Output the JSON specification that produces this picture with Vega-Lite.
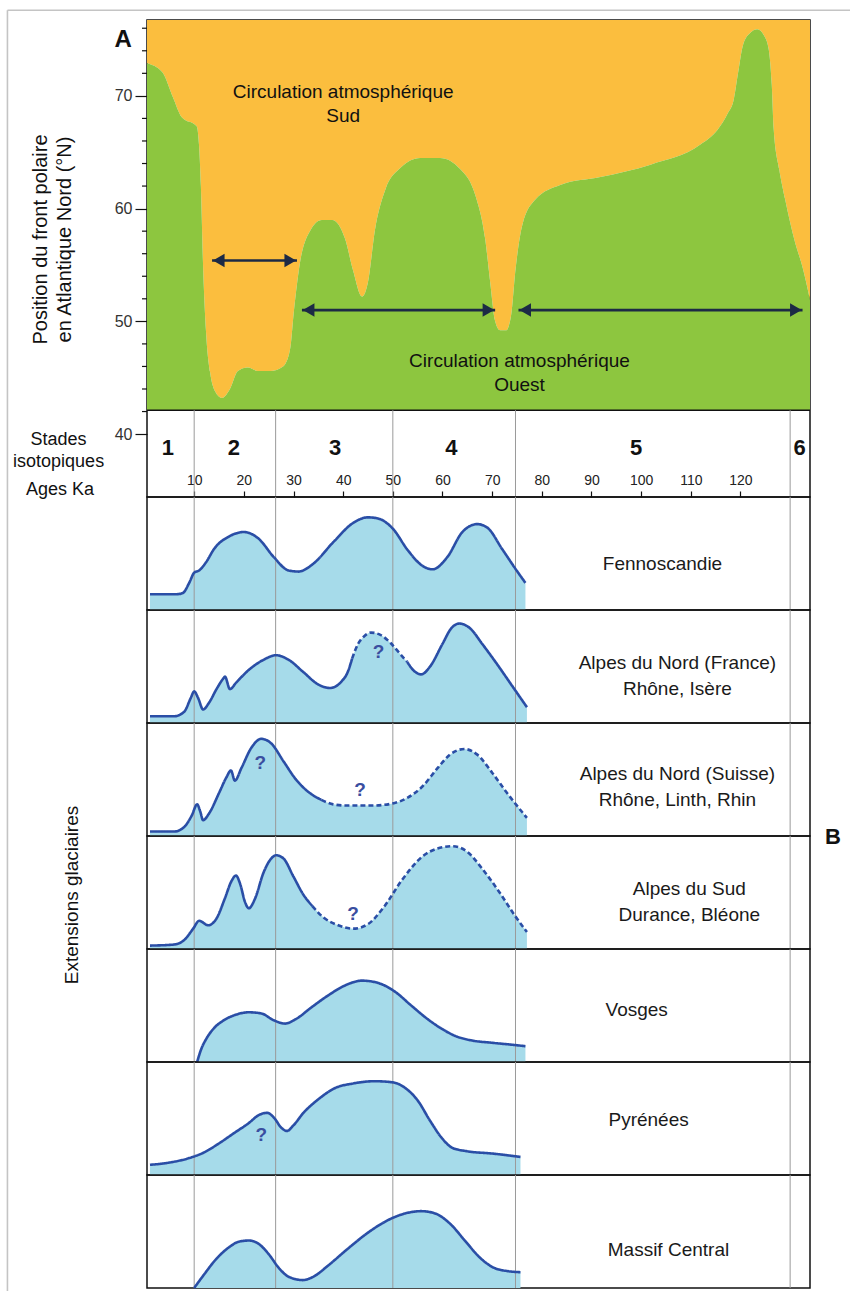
{
"$schema":"https://vega.github.io/schema/vega-lite/v6.json",
"background":"white",
"padding":{"left":5,"top":8,"right":0,"bottom":0},
"spacing":0,
"bounds":"flush",
"config":{"font":"Liberation Sans","view":{"stroke":"#111","strokeWidth":1.5},"axis":{"grid":false},"text":{"font":"Liberation Sans"},"facet":{"spacing":0},"concat":{"spacing":0}},
"datasets":{
"front":[{"ka":0.5,"lat":72.9},{"ka":3.6,"lat":72.1},{"ka":5.7,"lat":69.9},{"ka":7.5,"lat":68.1},{"ka":10.5,"lat":67.3},{"ka":11.0,"lat":65.5},{"ka":11.35,"lat":62},{"ka":11.75,"lat":55.5},{"ka":12.4,"lat":49},{"ka":13.2,"lat":45.5},{"ka":14.2,"lat":43.8},{"ka":15.6,"lat":43.2},{"ka":17.2,"lat":44.0},{"ka":18.8,"lat":45.6},{"ka":20.8,"lat":45.9},{"ka":22.8,"lat":45.6},{"ka":25.3,"lat":45.6},{"ka":27.9,"lat":46.0},{"ka":29.3,"lat":47.5},{"ka":30.1,"lat":51.0},{"ka":31.3,"lat":55.2},{"ka":33.3,"lat":58.0},{"ka":35.7,"lat":59.0},{"ka":37.8,"lat":59.0},{"ka":40.4,"lat":57.3},{"ka":42.0,"lat":54.5},{"ka":43.8,"lat":52.2},{"ka":45.0,"lat":53.5},{"ka":46.4,"lat":58.1},{"ka":48.5,"lat":61.7},{"ka":51.5,"lat":63.6},{"ka":55.5,"lat":64.5},{"ka":59.5,"lat":64.5},{"ka":63.6,"lat":63.5},{"ka":66.6,"lat":61.2},{"ka":68.6,"lat":57.3},{"ka":69.6,"lat":53.5},{"ka":70.6,"lat":50.0},{"ka":71.6,"lat":49.2},{"ka":72.8,"lat":49.2},{"ka":73.8,"lat":50.5},{"ka":74.7,"lat":54.6},{"ka":76.1,"lat":58.6},{"ka":78.7,"lat":60.8},{"ka":83.7,"lat":62.1},{"ka":91.8,"lat":62.8},{"ka":101.9,"lat":63.9},{"ka":112.0,"lat":65.7},{"ka":115.4,"lat":67.0},{"ka":117.5,"lat":68.5},{"ka":118.6,"lat":69.6},{"ka":119.5,"lat":72.0},{"ka":120.5,"lat":74.5},{"ka":122.0,"lat":75.6},{"ka":123.4,"lat":75.9},{"ka":124.8,"lat":75.3},{"ka":125.7,"lat":74.1},{"ka":126.3,"lat":71.0},{"ka":126.7,"lat":67.0},{"ka":127.8,"lat":63.5},{"ka":129.0,"lat":60.8},{"ka":131.0,"lat":57.0},{"ka":132.5,"lat":54.8},{"ka":134.0,"lat":51.9}],
"minor":[{"lat":42},{"lat":44},{"lat":46},{"lat":48},{"lat":52},{"lat":54},{"lat":56},{"lat":58},{"lat":62},{"lat":64},{"lat":66},{"lat":68},{"lat":72},{"lat":74},{"lat":76}],
"frame":[{"ka":-27.6,"ka2":142.2,"lat":77.6,"lat2":-36}],
"arrows":[{"ka":13.6,"ka2":30.7,"lat":55.4},{"ka":31.7,"ka2":70.6,"lat":51.0},{"ka":75.3,"ka2":132.5,"lat":51.0}],
"heads":[{"ka":14.95,"lat":55.4,"dir":"L"},{"ka":29.35,"lat":55.4,"dir":"R"},{"ka":33.05,"lat":51.0,"dir":"L"},{"ka":69.25,"lat":51.0,"dir":"R"},{"ka":76.65,"lat":51.0,"dir":"L"},{"ka":131.15,"lat":51.0,"dir":"R"}],
"circ":[{"ka":40.0,"lat":70.35,"txt":"Circulation atmosphérique\nSud"},{"ka":75.5,"lat":46.46,"txt":"Circulation atmosphérique\nOuest"}],
"stages":[{"ka":4.7,"lat":38.76,"txt":"1"},{"ka":18.0,"lat":38.76,"txt":"2"},{"ka":38.4,"lat":38.76,"txt":"3"},{"ka":61.8,"lat":38.76,"txt":"4"},{"ka":99.0,"lat":38.76,"txt":"5"},{"ka":131.9,"lat":38.76,"txt":"6"}],
"stagelines":[{"ka":10},{"ka":26.4},{"ka":50},{"ka":74.7},{"ka":130}],
"leftlab":[{"ka":-17.3,"lat":39.47,"txt":"Stades\nisotopiques"},{"ka":-17.0,"lat":35.04,"txt":"Ages Ka"}],
"panelA":[{"ka":-4.3,"lat":74.95,"txt":"A"}],
"ext":[
{"r":"F","t":"c","s":"1","d":"s","k":1.1,"v":0.14},{"r":"F","t":"c","s":"1","d":"s","k":6.5,"v":0.14},{"r":"F","t":"c","s":"1","d":"s","k":7.7,"v":0.15},{"r":"F","t":"c","s":"1","d":"s","k":9,"v":0.24},{"r":"F","t":"c","s":"1","d":"s","k":10,"v":0.33},{"r":"F","t":"c","s":"1","d":"s","k":11,"v":0.35},{"r":"F","t":"c","s":"1","d":"s","k":12.5,"v":0.43},{"r":"F","t":"c","s":"1","d":"s","k":14,"v":0.54},{"r":"F","t":"c","s":"1","d":"s","k":17,"v":0.65},{"r":"F","t":"c","s":"1","d":"s","k":20,"v":0.69},{"r":"F","t":"c","s":"1","d":"s","k":23,"v":0.63},{"r":"F","t":"c","s":"1","d":"s","k":26,"v":0.47},{"r":"F","t":"c","s":"1","d":"s","k":29,"v":0.35},{"r":"F","t":"c","s":"1","d":"s","k":31,"v":0.34},{"r":"F","t":"c","s":"1","d":"s","k":34,"v":0.41},{"r":"F","t":"c","s":"1","d":"s","k":38,"v":0.60},{"r":"F","t":"c","s":"1","d":"s","k":42,"v":0.77},{"r":"F","t":"c","s":"1","d":"s","k":45,"v":0.82},{"r":"F","t":"c","s":"1","d":"s","k":47,"v":0.81},{"r":"F","t":"c","s":"1","d":"s","k":50,"v":0.72},{"r":"F","t":"c","s":"1","d":"s","k":53,"v":0.53},{"r":"F","t":"c","s":"1","d":"s","k":56,"v":0.39},{"r":"F","t":"c","s":"1","d":"s","k":58,"v":0.36},{"r":"F","t":"c","s":"1","d":"s","k":61,"v":0.47},{"r":"F","t":"c","s":"1","d":"s","k":64,"v":0.69},{"r":"F","t":"c","s":"1","d":"s","k":67,"v":0.76},{"r":"F","t":"c","s":"1","d":"s","k":69,"v":0.73},{"r":"F","t":"c","s":"1","d":"s","k":72,"v":0.54},{"r":"F","t":"c","s":"1","d":"s","k":75,"v":0.345},{"r":"F","t":"c","s":"1","d":"s","k":76.7,"v":0.24},
{"r":"ANF","t":"c","s":"1","d":"s","k":1.1,"v":0.06},{"r":"ANF","t":"c","s":"1","d":"s","k":6,"v":0.06},{"r":"ANF","t":"c","s":"1","d":"s","k":8,"v":0.10},{"r":"ANF","t":"c","s":"1","d":"s","k":9.3,"v":0.22},{"r":"ANF","t":"c","s":"1","d":"s","k":10,"v":0.28},{"r":"ANF","t":"c","s":"1","d":"s","k":10.8,"v":0.22},{"r":"ANF","t":"c","s":"1","d":"s","k":11.8,"v":0.12},{"r":"ANF","t":"c","s":"1","d":"s","k":13,"v":0.18},{"r":"ANF","t":"c","s":"1","d":"s","k":14.5,"v":0.30},{"r":"ANF","t":"c","s":"1","d":"s","k":15.8,"v":0.39},{"r":"ANF","t":"c","s":"1","d":"s","k":16.2,"v":0.41},{"r":"ANF","t":"c","s":"1","d":"s","k":17.2,"v":0.30},{"r":"ANF","t":"c","s":"1","d":"s","k":18.5,"v":0.36},{"r":"ANF","t":"c","s":"1","d":"s","k":21,"v":0.47},{"r":"ANF","t":"c","s":"1","d":"s","k":24,"v":0.56},{"r":"ANF","t":"c","s":"1","d":"s","k":26.5,"v":0.60},{"r":"ANF","t":"c","s":"1","d":"s","k":29,"v":0.56},{"r":"ANF","t":"c","s":"1","d":"s","k":32,"v":0.45},{"r":"ANF","t":"c","s":"1","d":"s","k":35,"v":0.34},{"r":"ANF","t":"c","s":"1","d":"s","k":37.4,"v":0.31},{"r":"ANF","t":"c","s":"1","d":"s","k":39.5,"v":0.36},{"r":"ANF","t":"c","s":"1","d":"s","k":41,"v":0.46},{"r":"ANF","t":"c","s":"1","d":"s","k":41.8,"v":0.57},
{"r":"ANF","t":"c","s":"2","d":"d","a":0,"k":41.8,"v":0.57},{"r":"ANF","t":"c","s":"2","d":"d","k":43,"v":0.70},{"r":"ANF","t":"c","s":"2","d":"d","k":44.3,"v":0.77},{"r":"ANF","t":"c","s":"2","d":"d","k":45.6,"v":0.80},{"r":"ANF","t":"c","s":"2","d":"d","k":47.5,"v":0.78},{"r":"ANF","t":"c","s":"2","d":"d","k":49.5,"v":0.71},{"r":"ANF","t":"c","s":"2","d":"d","k":51.3,"v":0.62},{"r":"ANF","t":"c","s":"2","d":"d","k":52.9,"v":0.54},
{"r":"ANF","t":"c","s":"3","d":"s","a":0,"k":52.9,"v":0.54},{"r":"ANF","t":"c","s":"3","d":"s","k":54.3,"v":0.46},{"r":"ANF","t":"c","s":"3","d":"s","k":55.7,"v":0.43},{"r":"ANF","t":"c","s":"3","d":"s","k":57.5,"v":0.50},{"r":"ANF","t":"c","s":"3","d":"s","k":60,"v":0.70},{"r":"ANF","t":"c","s":"3","d":"s","k":61.8,"v":0.84},{"r":"ANF","t":"c","s":"3","d":"s","k":63.4,"v":0.88},{"r":"ANF","t":"c","s":"3","d":"s","k":65.5,"v":0.84},{"r":"ANF","t":"c","s":"3","d":"s","k":68,"v":0.70},{"r":"ANF","t":"c","s":"3","d":"s","k":71,"v":0.52},{"r":"ANF","t":"c","s":"3","d":"s","k":74,"v":0.33},{"r":"ANF","t":"c","s":"3","d":"s","k":77,"v":0.14},
{"r":"ANS","t":"c","s":"1","d":"s","k":1.1,"v":0.04},{"r":"ANS","t":"c","s":"1","d":"s","k":6,"v":0.04},{"r":"ANS","t":"c","s":"1","d":"s","k":8,"v":0.08},{"r":"ANS","t":"c","s":"1","d":"s","k":9.5,"v":0.18},{"r":"ANS","t":"c","s":"1","d":"s","k":10.6,"v":0.28},{"r":"ANS","t":"c","s":"1","d":"s","k":11.2,"v":0.22},{"r":"ANS","t":"c","s":"1","d":"s","k":11.8,"v":0.14},{"r":"ANS","t":"c","s":"1","d":"s","k":13,"v":0.20},{"r":"ANS","t":"c","s":"1","d":"s","k":15,"v":0.38},{"r":"ANS","t":"c","s":"1","d":"s","k":16.5,"v":0.52},{"r":"ANS","t":"c","s":"1","d":"s","k":17.4,"v":0.58},{"r":"ANS","t":"c","s":"1","d":"s","k":18.2,"v":0.49},{"r":"ANS","t":"c","s":"1","d":"s","k":19.5,"v":0.60},{"r":"ANS","t":"c","s":"1","d":"s","k":21.5,"v":0.78},{"r":"ANS","t":"c","s":"1","d":"s","k":23.5,"v":0.86},{"r":"ANS","t":"c","s":"1","d":"s","k":25.5,"v":0.82},{"r":"ANS","t":"c","s":"1","d":"s","k":28,"v":0.66},{"r":"ANS","t":"c","s":"1","d":"s","k":30.5,"v":0.50},{"r":"ANS","t":"c","s":"1","d":"s","k":33,"v":0.39},{"r":"ANS","t":"c","s":"1","d":"s","k":35.6,"v":0.32},
{"r":"ANS","t":"c","s":"2","d":"d","a":0,"k":35.6,"v":0.32},{"r":"ANS","t":"c","s":"2","d":"d","k":38,"v":0.28},{"r":"ANS","t":"c","s":"2","d":"d","k":40.5,"v":0.27},{"r":"ANS","t":"c","s":"2","d":"d","k":42.8,"v":0.27},{"r":"ANS","t":"c","s":"2","d":"d","k":46,"v":0.27},{"r":"ANS","t":"c","s":"2","d":"d","k":50.2,"v":0.29},{"r":"ANS","t":"c","s":"2","d":"d","k":53,"v":0.34},{"r":"ANS","t":"c","s":"2","d":"d","k":56,"v":0.44},{"r":"ANS","t":"c","s":"2","d":"d","k":59,"v":0.60},{"r":"ANS","t":"c","s":"2","d":"d","k":61.5,"v":0.72},{"r":"ANS","t":"c","s":"2","d":"d","k":64.4,"v":0.77},{"r":"ANS","t":"c","s":"2","d":"d","k":67,"v":0.72},{"r":"ANS","t":"c","s":"2","d":"d","k":70,"v":0.56},{"r":"ANS","t":"c","s":"2","d":"d","k":73,"v":0.38},{"r":"ANS","t":"c","s":"2","d":"d","k":77,"v":0.16},
{"r":"AS","t":"c","s":"1","d":"s","k":1.1,"v":0.03},{"r":"AS","t":"c","s":"1","d":"s","k":6,"v":0.04},{"r":"AS","t":"c","s":"1","d":"s","k":8,"v":0.08},{"r":"AS","t":"c","s":"1","d":"s","k":9.8,"v":0.18},{"r":"AS","t":"c","s":"1","d":"s","k":11,"v":0.25},{"r":"AS","t":"c","s":"1","d":"s","k":12.8,"v":0.21},{"r":"AS","t":"c","s":"1","d":"s","k":14.5,"v":0.27},{"r":"AS","t":"c","s":"1","d":"s","k":16.2,"v":0.45},{"r":"AS","t":"c","s":"1","d":"s","k":17.5,"v":0.60},{"r":"AS","t":"c","s":"1","d":"s","k":18.4,"v":0.65},{"r":"AS","t":"c","s":"1","d":"s","k":19.3,"v":0.57},{"r":"AS","t":"c","s":"1","d":"s","k":20.2,"v":0.42},{"r":"AS","t":"c","s":"1","d":"s","k":21,"v":0.36},{"r":"AS","t":"c","s":"1","d":"s","k":22.2,"v":0.44},{"r":"AS","t":"c","s":"1","d":"s","k":24,"v":0.68},{"r":"AS","t":"c","s":"1","d":"s","k":25.5,"v":0.80},{"r":"AS","t":"c","s":"1","d":"s","k":26.5,"v":0.83},{"r":"AS","t":"c","s":"1","d":"s","k":28,"v":0.80},{"r":"AS","t":"c","s":"1","d":"s","k":30,"v":0.64},{"r":"AS","t":"c","s":"1","d":"s","k":32,"v":0.48},{"r":"AS","t":"c","s":"1","d":"s","k":33.8,"v":0.38},
{"r":"AS","t":"c","s":"2","d":"d","a":0,"k":33.8,"v":0.38},{"r":"AS","t":"c","s":"2","d":"d","k":36,"v":0.28},{"r":"AS","t":"c","s":"2","d":"d","k":39,"v":0.21},{"r":"AS","t":"c","s":"2","d":"d","k":42,"v":0.18},{"r":"AS","t":"c","s":"2","d":"d","k":45,"v":0.22},{"r":"AS","t":"c","s":"2","d":"d","k":48,"v":0.36},{"r":"AS","t":"c","s":"2","d":"d","k":52,"v":0.62},{"r":"AS","t":"c","s":"2","d":"d","k":56,"v":0.82},{"r":"AS","t":"c","s":"2","d":"d","k":59,"v":0.89},{"r":"AS","t":"c","s":"2","d":"d","k":62,"v":0.91},{"r":"AS","t":"c","s":"2","d":"d","k":65,"v":0.86},{"r":"AS","t":"c","s":"2","d":"d","k":68,"v":0.71},{"r":"AS","t":"c","s":"2","d":"d","k":71.5,"v":0.50},{"r":"AS","t":"c","s":"2","d":"d","k":74.5,"v":0.30},{"r":"AS","t":"c","s":"2","d":"d","k":77,"v":0.15},
{"r":"V","t":"c","s":"1","d":"s","k":10.6,"v":0},{"r":"V","t":"c","s":"1","d":"s","k":11.3,"v":0.10},{"r":"V","t":"c","s":"1","d":"s","k":12.5,"v":0.21},{"r":"V","t":"c","s":"1","d":"s","k":14,"v":0.30},{"r":"V","t":"c","s":"1","d":"s","k":16,"v":0.37},{"r":"V","t":"c","s":"1","d":"s","k":18.5,"v":0.42},{"r":"V","t":"c","s":"1","d":"s","k":21,"v":0.44},{"r":"V","t":"c","s":"1","d":"s","k":23.5,"v":0.43},{"r":"V","t":"c","s":"1","d":"s","k":26,"v":0.37},{"r":"V","t":"c","s":"1","d":"s","k":28.3,"v":0.34},{"r":"V","t":"c","s":"1","d":"s","k":30.5,"v":0.38},{"r":"V","t":"c","s":"1","d":"s","k":33.5,"v":0.48},{"r":"V","t":"c","s":"1","d":"s","k":37,"v":0.59},{"r":"V","t":"c","s":"1","d":"s","k":40.5,"v":0.68},{"r":"V","t":"c","s":"1","d":"s","k":43.8,"v":0.72},{"r":"V","t":"c","s":"1","d":"s","k":47,"v":0.70},{"r":"V","t":"c","s":"1","d":"s","k":50.5,"v":0.62},{"r":"V","t":"c","s":"1","d":"s","k":53.7,"v":0.50},{"r":"V","t":"c","s":"1","d":"s","k":57,"v":0.38},{"r":"V","t":"c","s":"1","d":"s","k":60,"v":0.29},{"r":"V","t":"c","s":"1","d":"s","k":62.6,"v":0.23},{"r":"V","t":"c","s":"1","d":"s","k":66,"v":0.19},{"r":"V","t":"c","s":"1","d":"s","k":70,"v":0.17},{"r":"V","t":"c","s":"1","d":"s","k":73.5,"v":0.155},{"r":"V","t":"c","s":"1","d":"s","k":76.7,"v":0.14},
{"r":"P","t":"c","s":"1","d":"s","k":1.1,"v":0.09},{"r":"P","t":"c","s":"1","d":"s","k":5,"v":0.11},{"r":"P","t":"c","s":"1","d":"s","k":9,"v":0.15},{"r":"P","t":"c","s":"1","d":"s","k":12,"v":0.20},{"r":"P","t":"c","s":"1","d":"s","k":15,"v":0.28},{"r":"P","t":"c","s":"1","d":"s","k":18,"v":0.37},{"r":"P","t":"c","s":"1","d":"s","k":21,"v":0.46},{"r":"P","t":"c","s":"1","d":"s","k":23,"v":0.53},{"r":"P","t":"c","s":"1","d":"s","k":24.7,"v":0.55},{"r":"P","t":"c","s":"1","d":"s","k":26.2,"v":0.50},{"r":"P","t":"c","s":"1","d":"s","k":27.5,"v":0.42},{"r":"P","t":"c","s":"1","d":"s","k":28.7,"v":0.39},{"r":"P","t":"c","s":"1","d":"s","k":30,"v":0.44},{"r":"P","t":"c","s":"1","d":"s","k":32,"v":0.55},{"r":"P","t":"c","s":"1","d":"s","k":35,"v":0.67},{"r":"P","t":"c","s":"1","d":"s","k":38.4,"v":0.77},{"r":"P","t":"c","s":"1","d":"s","k":42,"v":0.81},{"r":"P","t":"c","s":"1","d":"s","k":46.4,"v":0.83},{"r":"P","t":"c","s":"1","d":"s","k":50,"v":0.82},{"r":"P","t":"c","s":"1","d":"s","k":52.5,"v":0.77},{"r":"P","t":"c","s":"1","d":"s","k":55,"v":0.66},{"r":"P","t":"c","s":"1","d":"s","k":57.5,"v":0.48},{"r":"P","t":"c","s":"1","d":"s","k":60,"v":0.32},{"r":"P","t":"c","s":"1","d":"s","k":62,"v":0.24},{"r":"P","t":"c","s":"1","d":"s","k":65,"v":0.21},{"r":"P","t":"c","s":"1","d":"s","k":70,"v":0.19},{"r":"P","t":"c","s":"1","d":"s","k":75.7,"v":0.16},
{"r":"MC","t":"c","s":"1","d":"s","k":10,"v":0},{"r":"MC","t":"c","s":"1","d":"s","k":12,"v":0.12},{"r":"MC","t":"c","s":"1","d":"s","k":14.5,"v":0.26},{"r":"MC","t":"c","s":"1","d":"s","k":17,"v":0.36},{"r":"MC","t":"c","s":"1","d":"s","k":19,"v":0.41},{"r":"MC","t":"c","s":"1","d":"s","k":21,"v":0.42},{"r":"MC","t":"c","s":"1","d":"s","k":23,"v":0.39},{"r":"MC","t":"c","s":"1","d":"s","k":25,"v":0.30},{"r":"MC","t":"c","s":"1","d":"s","k":27,"v":0.18},{"r":"MC","t":"c","s":"1","d":"s","k":29,"v":0.10},{"r":"MC","t":"c","s":"1","d":"s","k":31.9,"v":0.07},{"r":"MC","t":"c","s":"1","d":"s","k":34,"v":0.10},{"r":"MC","t":"c","s":"1","d":"s","k":37,"v":0.20},{"r":"MC","t":"c","s":"1","d":"s","k":41,"v":0.35},{"r":"MC","t":"c","s":"1","d":"s","k":45,"v":0.49},{"r":"MC","t":"c","s":"1","d":"s","k":49,"v":0.60},{"r":"MC","t":"c","s":"1","d":"s","k":52.5,"v":0.66},{"r":"MC","t":"c","s":"1","d":"s","k":55.7,"v":0.68},{"r":"MC","t":"c","s":"1","d":"s","k":58.5,"v":0.66},{"r":"MC","t":"c","s":"1","d":"s","k":61.5,"v":0.57},{"r":"MC","t":"c","s":"1","d":"s","k":64.5,"v":0.42},{"r":"MC","t":"c","s":"1","d":"s","k":67.5,"v":0.27},{"r":"MC","t":"c","s":"1","d":"s","k":70.3,"v":0.18},{"r":"MC","t":"c","s":"1","d":"s","k":73,"v":0.15},{"r":"MC","t":"c","s":"1","d":"s","k":75.7,"v":0.14},
{"r":"F","t":"n","k":104.3,"v":0.41,"txt":"Fennoscandie"},
{"r":"ANF","t":"n","k":107.3,"v":0.53,"txt":"Alpes du Nord (France)\nRhône, Isère"},
{"r":"ANS","t":"n","k":107.3,"v":0.55,"txt":"Alpes du Nord (Suisse)\nRhône, Linth, Rhin"},
{"r":"AS","t":"n","k":109.7,"v":0.535,"txt":"Alpes du Sud\nDurance, Bléone"},
{"r":"V","t":"n","k":99.1,"v":0.46,"txt":"Vosges"},
{"r":"P","t":"n","k":101.5,"v":0.49,"txt":"Pyrénées"},
{"r":"MC","t":"n","k":105.5,"v":0.34,"txt":"Massif Central"},
{"r":"ANF","t":"q","k":47.1,"v":0.63,"txt":"?"},
{"r":"ANS","t":"q","k":23.3,"v":0.65,"txt":"?"},
{"r":"ANS","t":"q","k":43.4,"v":0.41,"txt":"?"},
{"r":"AS","t":"q","k":42,"v":0.31,"txt":"?"},
{"r":"P","t":"q","k":23.5,"v":0.35,"txt":"?"},
{"r":"AS","t":"b","k":138.6,"v":0.99,"txt":"B"},
{"r":"F","t":"v","k":10},{"r":"F","t":"v","k":26.4},{"r":"F","t":"v","k":50},{"r":"F","t":"v","k":74.7},{"r":"F","t":"v","k":130},
{"r":"ANF","t":"v","k":10},{"r":"ANF","t":"v","k":26.4},{"r":"ANF","t":"v","k":50},{"r":"ANF","t":"v","k":74.7},{"r":"ANF","t":"v","k":130},
{"r":"ANS","t":"v","k":10},{"r":"ANS","t":"v","k":26.4},{"r":"ANS","t":"v","k":50},{"r":"ANS","t":"v","k":74.7},{"r":"ANS","t":"v","k":130},
{"r":"AS","t":"v","k":10},{"r":"AS","t":"v","k":26.4},{"r":"AS","t":"v","k":50},{"r":"AS","t":"v","k":74.7},{"r":"AS","t":"v","k":130},
{"r":"V","t":"v","k":10},{"r":"V","t":"v","k":26.4},{"r":"V","t":"v","k":50},{"r":"V","t":"v","k":74.7},{"r":"V","t":"v","k":130},
{"r":"P","t":"v","k":10},{"r":"P","t":"v","k":26.4},{"r":"P","t":"v","k":50},{"r":"P","t":"v","k":74.7},{"r":"P","t":"v","k":130},
{"r":"MC","t":"v","k":10},{"r":"MC","t":"v","k":26.4},{"r":"MC","t":"v","k":50},{"r":"MC","t":"v","k":74.7},{"r":"MC","t":"v","k":130}
]
},
"vconcat":[
{
"width":663,"height":477,
"layer":[
{"data":{"name":"front"},"mark":{"type":"area","interpolate":"monotone","color":"#fbbe3e"},
 "encoding":{
  "x":{"field":"ka","type":"quantitative","scale":{"domain":[0.5,134],"nice":false,"zero":false},
       "axis":{"orient":"bottom","values":[10,20,30,40,50,60,70,80,90,100,110,120],"title":null,"domain":false,"tickSize":-6,"tickColor":"#111","tickWidth":1.2,"labelPadding":-11,"labelBaseline":"middle","labelFontSize":14,"labelColor":"#222","labelFlush":false,"labelOverlap":false}},
  "y":{"field":"lat","type":"quantitative","scale":{"domain":[34.42,76.73],"nice":false,"zero":false},
       "axis":{"values":[40,50,60,70],"domain":false,"tickColor":"#111","tickWidth":1.2,"tickSize":12,"labelPadding":3,"labelFontSize":16,"labelColor":"#333","title":["Position du front polaire","en Atlantique Nord (°N)"],"titleFontSize":20,"titleFontWeight":"normal","titleColor":"#111","titleLineHeight":24,"titleX":-97,"titleY":219}},
  "y2":{"datum":76.73}}},
{"data":{"name":"front"},"mark":{"type":"area","interpolate":"monotone","color":"#8dc63f"},
 "encoding":{"x":{"field":"ka","type":"quantitative"},"y":{"field":"lat","type":"quantitative"},"y2":{"datum":42.12}}},
{"data":{"values":[{}]},"mark":{"type":"rule","color":"#111","strokeWidth":1.5},"encoding":{"y":{"datum":42.12}}},
{"data":{"name":"frame"},"mark":{"type":"rule","color":"#c4c4c4","strokeWidth":1.6,"clip":false},"encoding":{"x":{"field":"ka","type":"quantitative"},"y":{"field":"lat","type":"quantitative"},"y2":{"field":"lat2"}}},
{"data":{"name":"frame"},"mark":{"type":"rule","color":"#c4c4c4","strokeWidth":1.6,"clip":false},"encoding":{"x":{"field":"ka","type":"quantitative"},"x2":{"field":"ka2"},"y":{"field":"lat","type":"quantitative"}}},
{"data":{"name":"minor"},"mark":{"type":"tick","orient":"horizontal","size":5,"thickness":1.2,"xOffset":-2.5,"color":"#111","opacity":1},"encoding":{"x":{"datum":0.5,"type":"quantitative"},"y":{"field":"lat","type":"quantitative"}}},
{"data":{"name":"stagelines"},"mark":{"type":"rule","color":"#9a9a9a","strokeWidth":1},"encoding":{"x":{"field":"ka","type":"quantitative"},"y":{"datum":42.12},"y2":{"datum":34.42}}},
{"data":{"name":"arrows"},"mark":{"type":"rule","color":"#1c2a45","strokeWidth":2.6},"encoding":{"x":{"field":"ka","type":"quantitative"},"x2":{"field":"ka2"},"y":{"field":"lat","type":"quantitative"}}},
{"data":{"name":"heads"},"mark":{"type":"point","filled":true,"size":180,"opacity":1,"color":"#1c2a45"},"encoding":{"x":{"field":"ka","type":"quantitative"},"y":{"field":"lat","type":"quantitative"},"shape":{"field":"dir","type":"nominal","scale":{"domain":["L","R"],"range":["triangle-left","triangle-right"]},"legend":null}}},
{"data":{"name":"circ"},"mark":{"type":"text","fontSize":19,"lineHeight":24,"color":"#111","lineBreak":"\n","align":"center","baseline":"middle"},"encoding":{"x":{"field":"ka","type":"quantitative"},"y":{"field":"lat","type":"quantitative"},"text":{"field":"txt"}}},
{"data":{"name":"stages"},"mark":{"type":"text","fontSize":22,"fontWeight":"bold","color":"#111","align":"center","baseline":"middle"},"encoding":{"x":{"field":"ka","type":"quantitative"},"y":{"field":"lat","type":"quantitative"},"text":{"field":"txt"}}},
{"data":{"name":"leftlab"},"mark":{"type":"text","fontSize":18,"lineHeight":22,"color":"#111","lineBreak":"\n","align":"center","baseline":"middle"},"encoding":{"x":{"field":"ka","type":"quantitative"},"y":{"field":"lat","type":"quantitative"},"text":{"field":"txt"}}},
{"data":{"name":"panelA"},"mark":{"type":"text","fontSize":24,"fontWeight":"bold","color":"#111","align":"center","baseline":"middle"},"encoding":{"x":{"field":"ka","type":"quantitative"},"y":{"field":"lat","type":"quantitative"},"text":{"field":"txt"}}}
]
},
{
"data":{"name":"ext"},
"facet":{"row":{"field":"r","type":"nominal","sort":["F","ANF","ANS","AS","V","P","MC"],"title":"Extensions glaciaires","header":{"labels":false,"titleFontSize":19,"titleFontWeight":"normal","titleColor":"#111","titlePadding":55,"titleFont":"Liberation Sans"}}},
"spacing":{"row":0,"column":0},
"bounds":"flush",
"spec":{
 "width":663,"height":113,
 "encoding":{"x":{"field":"k","type":"quantitative","scale":{"domain":[0.5,134],"nice":false,"zero":false},"axis":null}},
 "layer":[
  {"transform":[{"filter":"datum.t==='c' && datum.a!==0"}],"mark":{"type":"area","interpolate":"monotone","color":"#a6dbea"},"encoding":{"y":{"field":"v","type":"quantitative","scale":{"domain":[0,1],"nice":false},"axis":null}}},
  {"transform":[{"filter":"datum.t==='v'"}],"mark":{"type":"rule","color":"#9a9a9a","strokeWidth":1}},
  {"transform":[{"filter":"datum.t==='c'"}],"mark":{"type":"line","interpolate":"monotone","color":"#2a4ea6","strokeWidth":2.6},"encoding":{"y":{"field":"v","type":"quantitative"},"detail":{"field":"s"},"strokeDash":{"field":"d","type":"nominal","scale":{"domain":["s","d"],"range":[[1,0],[5,3]]},"legend":null}}},
  {"transform":[{"filter":"datum.t==='n'"}],"mark":{"type":"text","fontSize":19,"lineHeight":26,"color":"#1a1a1a","lineBreak":"\n","align":"center","baseline":"middle"},"encoding":{"y":{"field":"v","type":"quantitative"},"text":{"field":"txt"}}},
  {"transform":[{"filter":"datum.t==='q'"}],"mark":{"type":"text","fontSize":19,"fontWeight":"bold","color":"#3a4ea0","align":"center","baseline":"middle"},"encoding":{"y":{"field":"v","type":"quantitative"},"text":{"field":"txt"}}},
  {"transform":[{"filter":"datum.t==='b'"}],"mark":{"type":"text","fontSize":22,"fontWeight":"bold","color":"#111","align":"center","baseline":"middle"},"encoding":{"y":{"field":"v","type":"quantitative"},"text":{"field":"txt"}}}
 ]
}
}
]
}
